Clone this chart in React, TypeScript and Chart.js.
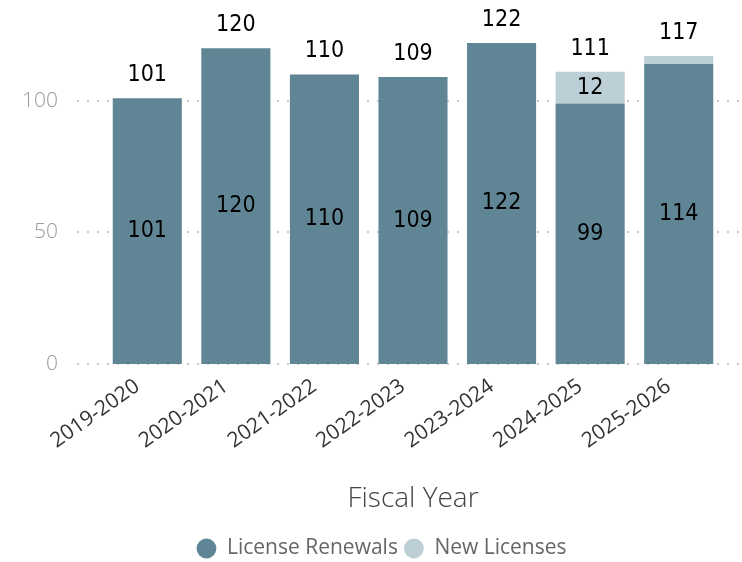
import React, { useEffect, useRef } from "react";
import { Chart, registerables } from "chart.js";

Chart.register(...registerables);

const categories = ["2019-2020", "2020-2021", "2021-2022", "2022-2023", "2023-2024", "2024-2025", "2025-2026"];
const renewals = [101, 120, 110, 109, 122, 99, 114];
const newLicenses = [0, 0, 0, 0, 0, 12, 3];
const yTicks = [0, 50, 100];

const RENEW_COLOR = "#608696";
const NEW_COLOR = "#bdcfd6";
const LABEL_FONT = "23px 'Liberation Sans Narrow', 'Arial Narrow', 'DejaVu Sans Condensed', sans-serif";
const UI_FONT = "'Open Sans', 'Noto Sans', sans-serif";

const gridPlugin = {
  id: "dotGrid",
  beforeDatasetsDraw(chart: any) {
    const { ctx } = chart;
    const y = chart.scales.y;
    ctx.save();
    ctx.strokeStyle = "#c8c8c8";
    ctx.lineWidth = 2;
    ctx.setLineDash([2, 8]);
    yTicks.forEach((v) => {
      const py = Math.round(y.getPixelForValue(v));
      ctx.beginPath();
      ctx.moveTo(77, py);
      ctx.lineTo(742, py);
      ctx.stroke();
    });
    ctx.restore();
  },
};

const legendShift = {
  id: "legendShift",
  afterLayout(chart: any) {
    if (chart.legend) {
      chart.legend.left += 20;
      chart.legend.right += 20;
    }
  },
};

const labelPlugin = {
  id: "valueLabels",
  afterDatasetsDraw(chart: any) {
    const { ctx } = chart;
    const m0 = chart.getDatasetMeta(0);
    const m1 = chart.getDatasetMeta(1);
    ctx.save();
    ctx.font = LABEL_FONT;
    ctx.fillStyle = "#000";
    ctx.textAlign = "center";
    ctx.textBaseline = "middle";
    categories.forEach((_, i) => {
      const b0 = m0.data[i];
      const b1 = m1.data[i];
      ctx.fillText(String(renewals[i]), b0.x, (b0.y + b0.base) / 2);
      if (newLicenses[i] >= 5) {
        ctx.fillText(String(newLicenses[i]), b1.x, (b1.y + b1.base) / 2);
      }
      const top = newLicenses[i] > 0 ? b1.y : b0.y;
      ctx.fillText(String(renewals[i] + newLicenses[i]), b0.x, top - 23);
    });
    ctx.restore();
  },
};

export default function App() {
  const ref = useRef<HTMLCanvasElement>(null);
  useEffect(() => {
    document.body.style.margin = "0";
    const chart = new Chart(ref.current!, {
      type: "bar",
      data: {
        labels: categories,
        datasets: [
          { label: "License Renewals", data: renewals, backgroundColor: RENEW_COLOR, categoryPercentage: 1, barPercentage: 0.78 },
          { label: "New Licenses", data: newLicenses, backgroundColor: NEW_COLOR, categoryPercentage: 1, barPercentage: 0.78 },
        ],
      },
      options: {
        animation: false,
        responsive: false,
        layout: { padding: { top: 35, right: 19, left: 0, bottom: -7 } },
        plugins: {
          tooltip: { enabled: false },
          legend: {
            position: "bottom",
            labels: {
              usePointStyle: true,
              pointStyle: "circle",
              boxWidth: 20,
              boxHeight: 14,
              color: "#666",
              font: { family: UI_FONT, size: 21 },
              padding: 6,
            },
          },
        },
        scales: {
          x: {
            stacked: true,
            grid: { display: false },
            border: { display: false },
            afterFit: (scale: any) => {
              scale.height = 168;
            },
            ticks: {
              minRotation: 35,
              maxRotation: 35,
              labelOffset: -10,
              color: "#333",
              font: { family: UI_FONT, size: 21 },
              padding: 2,
            },
            title: {
              display: true,
              text: "Fiscal Year",
              color: "#444",
              font: { family: UI_FONT, size: 28, weight: "300" },
              padding: { top: 4, bottom: 16 },
            },
          },
          y: {
            stacked: true,
            min: 0,
            max: 125,
            grid: { display: false },
            border: { display: false },
            afterBuildTicks: (scale: any) => {
              scale.ticks = yTicks.map((v) => ({ value: v }));
            },
            afterFit: (scale: any) => {
              scale.width = 103;
              scale.paddingTop = 0;
              scale.paddingBottom = 0;
            },
            ticks: {
              color: "#999",
              padding: 37,
              font: { family: UI_FONT, size: 21, weight: "300" },
            },
          },
        },
      },
      plugins: [gridPlugin, labelPlugin, legendShift],
    });
    return () => chart.destroy();
  }, []);
  return (
    <div style={{ position: "absolute", left: 0, top: 0, width: 742, height: 562 }}>
      <canvas ref={ref} width={742} height={562} style={{ width: 742, height: 562 }} />
    </div>
  );
}
